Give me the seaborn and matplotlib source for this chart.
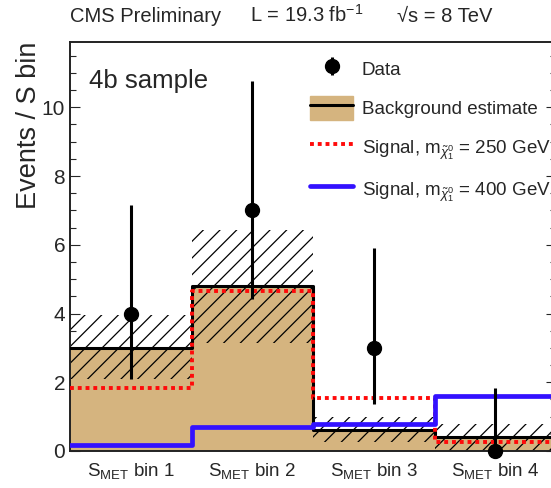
import numpy as np
import matplotlib
matplotlib.use("Agg")
import matplotlib.pyplot as plt
from matplotlib.patches import Patch
from matplotlib.lines import Line2D
from matplotlib.legend_handler import HandlerTuple
from matplotlib.ticker import MultipleLocator
import seaborn as sns

# S_MET bins of the 4b sample
bin_edges = [0, 1, 2, 3, 4]
bin_labels = [r"S$_{\rm MET}$ bin 1", r"S$_{\rm MET}$ bin 2",
              r"S$_{\rm MET}$ bin 3", r"S$_{\rm MET}$ bin 4"]

# observed events with asymmetric Poisson errors
data_counts = [4, 7, 3, 0]
data_err_lo = [1.91, 2.58, 1.63, 0.0]
data_err_hi = [3.16, 3.77, 2.92, 1.84]

# background estimate and its uncertainty band
bkg_est = [3.0, 4.8, 0.6, 0.41]
bkg_lo = [2.1, 3.13, 0.27, 0.0]
bkg_hi = [3.95, 6.43, 0.98, 0.8]

# signal expectations
sig_250 = [1.82, 4.66, 1.55, 0.27]
sig_400 = [0.18, 0.69, 0.79, 1.6]

TAN = "#d5b47f"
RED = "#ff0a0a"
BLUE = "#3311ff"

sns.set_style("ticks")
plt.rcParams["font.family"] = ["Liberation Sans", "DejaVu Sans"]
plt.rcParams["mathtext.fontset"] = "custom"
plt.rcParams["mathtext.rm"] = "Liberation Sans"
plt.rcParams["mathtext.it"] = "Liberation Sans:italic"
plt.rcParams["mathtext.sf"] = "Liberation Sans"
plt.rcParams["mathtext.bf"] = "Liberation Sans:bold"
plt.rcParams["hatch.linewidth"] = 0.9
plt.rcParams["hatch.color"] = "black"

centers = [0.5 * (a + b) for a, b in zip(bin_edges[:-1], bin_edges[1:])]

fig = plt.figure(figsize=(5.51, 4.88), dpi=100)
ax = fig.add_axes([70 / 551, 37 / 488, 486 / 551, 409 / 488])

# background estimate: filled histogram
sns.histplot(x=centers, weights=bkg_est, bins=bin_edges, element="step",
             fill=True, color=TAN, alpha=1, linewidth=0, ax=ax, zorder=1)

# uncertainty band (hatched)
ax.bar(centers, np.array(bkg_hi) - np.array(bkg_lo), bottom=bkg_lo, width=1.0,
       fill=False, hatch="//", edgecolor="black", linewidth=0, zorder=2)

# background outline
sns.histplot(x=centers, weights=bkg_est, bins=bin_edges, element="step",
             fill=False, color="black", linewidth=2.2, ax=ax, zorder=3)

# signal shapes
sns.histplot(x=centers, weights=sig_250, bins=bin_edges, element="step",
             fill=False, color=RED, linewidth=2.8, linestyle=(0, (1, 1)),
             ax=ax, zorder=4)
sns.histplot(x=centers, weights=sig_400, bins=bin_edges, element="step",
             fill=False, color=BLUE, linewidth=3.4, ax=ax, zorder=5)

# data points
data_eb = ax.errorbar(centers, data_counts, yerr=[data_err_lo, data_err_hi],
                      fmt="o", color="black", markersize=10, elinewidth=2.2,
                      capsize=0, zorder=6, clip_on=False)

ax.set_xlim(0, 4)
ax.set_ylim(0, 11.9)
ax.set_xticks(centers)
ax.set_xticklabels(bin_labels, fontsize=13.5)
ax.set_xlabel("")
ax.yaxis.set_major_locator(MultipleLocator(2))
ax.yaxis.set_minor_locator(MultipleLocator(0.5))
ax.tick_params(axis="x", length=0, pad=7)
ax.tick_params(axis="y", which="major", direction="in", length=7, width=0.8,
               left=True, right=True, labelsize=15, pad=3.5)
ax.tick_params(axis="y", which="minor", direction="in", length=4, width=0.8,
               left=True, right=True)
for sp in ax.spines.values():
    sp.set_visible(True)
    sp.set_linewidth(1.4)
    sp.set_color("#222222")

ax.set_ylabel("Events / S bin", fontsize=19.5, loc="top")
ax.yaxis.set_label_coords(-0.058, 1.0)

ax.text(0.04, (451 - 88) / 409, "4b sample", transform=ax.transAxes,
        fontsize=18.5, ha="left", va="baseline")

fig.text(70 / 551, (488 - 21.5) / 488, "CMS Preliminary", fontsize=14.5,
         ha="left", va="baseline")
fig.text(250 / 551, (488 - 21.5) / 488, r"L = 19.3 fb$^{-1}$", fontsize=14.5,
         ha="left", va="baseline")
fig.text(397 / 551, (488 - 21.5) / 488, "\u221as = 8 TeV", fontsize=14.5,
         ha="left", va="baseline")

handles = [
    data_eb,
    (Patch(facecolor=TAN, edgecolor=TAN), Line2D([], [], color="black", lw=2.2)),
    Line2D([], [], color=RED, lw=2.8, linestyle=(0, (1, 1))),
    Line2D([], [], color=BLUE, lw=3.4),
]
labels = [
    "Data",
    "Background estimate",
    r"Signal, m$_{\tilde{\chi}^{0}_{1}}$ = 250 GeV",
    r"Signal, m$_{\tilde{\chi}^{0}_{1}}$ = 400 GeV",
]
ax.legend(handles, labels, loc="upper left",
          bbox_to_anchor=(310 / 551, (488 - 57) / 488),
          bbox_transform=fig.transFigure, frameon=False, fontsize=13.5,
          borderpad=0, borderaxespad=0, handlelength=2.3, handleheight=1.6,
          handletextpad=0.45, labelspacing=0.8,
          handler_map={tuple: HandlerTuple(ndivide=1, pad=0)})

fig.savefig("out.png", dpi=100)
